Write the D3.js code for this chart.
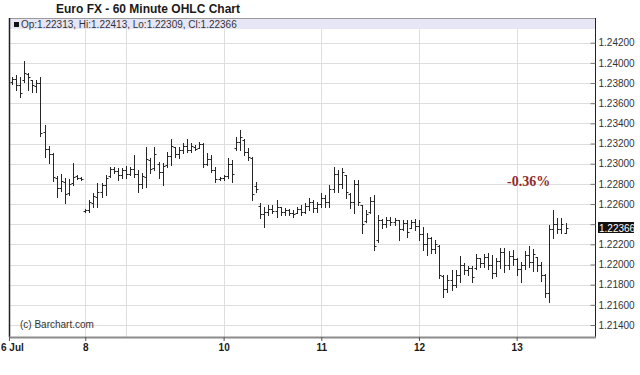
<!DOCTYPE html>
<html>
<head>
<meta charset="utf-8">
<script src="https://cdn.jsdelivr.net/npm/d3@7.9.0/dist/d3.min.js"></script>
<style>
  html, body { margin: 0; padding: 0; background: #fff; }
  svg { display: block; font-family: "Liberation Sans", Arial, sans-serif; }
</style>
</head>
<body>
<svg id="chart" width="640" height="375"></svg>
<script>
// hourly bars, Jul 6 - Jul 13
const opens = [
  1.2381, 1.2384, 1.2378, 1.2383, 1.2389, 1.2383, 1.2377, 1.2380, 1.2331, 1.2315,
  1.2310, 1.2286, 1.2276, 1.2282, 1.2271, 1.2281, 1.2288, 1.2286,
  1.2253, 1.2254, 1.2261, 1.2267, 1.2272, 1.2279, 1.2288, 1.2295, 1.2293, 1.2289,
  1.2294, 1.2290, 1.2295, 1.2290, 1.2280, 1.2287, 1.2304, 1.2296, 1.2300, 1.2292,
  1.2299, 1.2308, 1.2317, 1.2310, 1.2314, 1.2318, 1.2314, 1.2317, 1.2316, 1.2320,
  1.2300, 1.2305, 1.2294, 1.2285, 1.2286, 1.2288, 1.2300, 1.2316, 1.2322, 1.2323,
  1.2312, 1.2306, 1.2278, 1.2258, 1.2250, 1.2252, 1.2255, 1.2253, 1.2257, 1.2252,
  1.2254, 1.2251, 1.2251, 1.2255, 1.2252, 1.2258, 1.2262, 1.2256, 1.2260, 1.2266,
  1.2262, 1.2275, 1.2290, 1.2280, 1.2289, 1.2270, 1.2262, 1.2280, 1.2259, 1.2243,
  1.2252, 1.2263, 1.2224, 1.2244, 1.2240, 1.2244, 1.2242, 1.2244, 1.2235, 1.2241,
  1.2236, 1.2242, 1.2238, 1.2230, 1.2220, 1.2226, 1.2215, 1.2218, 1.2189, 1.2176,
  1.2185, 1.2180, 1.2190, 1.2200, 1.2195, 1.2197, 1.2197, 1.2206, 1.2201, 1.2207,
  1.2200, 1.2192, 1.2203, 1.2212, 1.2200, 1.2208, 1.2205, 1.2196, 1.2200, 1.2209,
  1.2202, 1.2207, 1.2200, 1.2190, 1.2172, 1.2235, 1.2240, 1.2235, 1.22313
];
const highs = [
  1.2386, 1.2388, 1.2386, 1.2402, 1.2390, 1.2383, 1.2383, 1.2386, 1.2338, 1.2318,
  1.2311, 1.2288, 1.2290, 1.2286, 1.2285, 1.2301, 1.2289, 1.2287,
  1.2255, 1.2264, 1.2271, 1.2281, 1.2281, 1.2289, 1.2297, 1.2297, 1.2296, 1.2296,
  1.2298, 1.2297, 1.2309, 1.2294, 1.2291, 1.2317, 1.2306, 1.2317, 1.2302, 1.2301,
  1.2312, 1.2324, 1.2317, 1.2317, 1.2321, 1.2324, 1.2321, 1.2319, 1.2322, 1.2321,
  1.2311, 1.2309, 1.2297, 1.2287, 1.2289, 1.2306, 1.2304, 1.2326, 1.2333, 1.2324,
  1.2316, 1.2307, 1.2282, 1.2261, 1.2257, 1.2259, 1.2259, 1.2264, 1.2257, 1.2256,
  1.2255, 1.2254, 1.2257, 1.2259, 1.2261, 1.2266, 1.2264, 1.2262, 1.2271, 1.2269,
  1.2279, 1.2297, 1.2294, 1.2296, 1.2289, 1.2271, 1.2284, 1.2284, 1.2259, 1.2254,
  1.2267, 1.2269, 1.2249, 1.2245, 1.2247, 1.2247, 1.2246, 1.2244, 1.2244, 1.2244,
  1.2244, 1.2245, 1.2244, 1.2237, 1.2231, 1.2227, 1.2224, 1.2219, 1.2190, 1.2190,
  1.2195, 1.2195, 1.2208, 1.2201, 1.2199, 1.2199, 1.2210, 1.2206, 1.2210, 1.2211,
  1.2209, 1.2206, 1.2216, 1.2216, 1.2213, 1.2214, 1.2206, 1.2202, 1.2213, 1.2218,
  1.2215, 1.2207, 1.2202, 1.2191, 1.2239, 1.2254, 1.2246, 1.2246, 1.22413
];
const lows = [
  1.2379, 1.2373, 1.2366, 1.2381, 1.2373, 1.2371, 1.2371, 1.2327, 1.2307, 1.2301,
  1.2283, 1.2267, 1.2273, 1.2261, 1.2269, 1.2279, 1.2285, 1.2284,
  1.2252, 1.2252, 1.2257, 1.2257, 1.2267, 1.2269, 1.2287, 1.2291, 1.2284, 1.2286,
  1.2286, 1.2289, 1.2287, 1.2272, 1.2276, 1.2277, 1.2291, 1.2294, 1.2286, 1.2279,
  1.2297, 1.2299, 1.2307, 1.2306, 1.2311, 1.2312, 1.2312, 1.2314, 1.2316, 1.2297,
  1.2299, 1.2292, 1.2282, 1.2284, 1.2284, 1.2286, 1.2282, 1.2314, 1.2314, 1.2309,
  1.2304, 1.2264, 1.2272, 1.2246, 1.2237, 1.2249, 1.2251, 1.2247, 1.2249, 1.2249,
  1.2249, 1.2247, 1.2251, 1.2249, 1.2251, 1.2254, 1.2252, 1.2252, 1.2257, 1.2257,
  1.2257, 1.2272, 1.2272, 1.2276, 1.2266, 1.2256, 1.2251, 1.2259, 1.2231, 1.2242,
  1.2251, 1.2214, 1.2222, 1.2236, 1.2237, 1.2239, 1.2239, 1.2224, 1.2234, 1.2227,
  1.2236, 1.2234, 1.2224, 1.2214, 1.2209, 1.2211, 1.2211, 1.2187, 1.2168, 1.2173,
  1.2175, 1.2178, 1.2183, 1.2191, 1.2190, 1.2183, 1.2196, 1.2198, 1.2198, 1.2196,
  1.2187, 1.2189, 1.2197, 1.2193, 1.2196, 1.2200, 1.2190, 1.2183, 1.2196, 1.2198,
  1.2194, 1.2194, 1.2184, 1.2168, 1.2163, 1.2226, 1.2231, 1.2231, 1.22309
];
const closes = [
  1.2384, 1.2378, 1.2370, 1.2390, 1.2386, 1.2378, 1.2380, 1.2330, 1.2315, 1.2310,
  1.2287, 1.2276, 1.2283, 1.2270, 1.2280, 1.2287, 1.2286, 1.2285,
  1.2254, 1.2262, 1.2268, 1.2272, 1.2279, 1.2286, 1.2295, 1.2293, 1.2289, 1.2294,
  1.2290, 1.2295, 1.2290, 1.2280, 1.2288, 1.2305, 1.2295, 1.2310, 1.2292, 1.2298,
  1.2308, 1.2318, 1.2310, 1.2314, 1.2318, 1.2314, 1.2318, 1.2315, 1.2320, 1.2300,
  1.2305, 1.2294, 1.2285, 1.2286, 1.2288, 1.2300, 1.2290, 1.2322, 1.2326, 1.2312,
  1.2307, 1.2270, 1.2275, 1.2250, 1.2252, 1.2255, 1.2253, 1.2257, 1.2252, 1.2254,
  1.2251, 1.2250, 1.2255, 1.2252, 1.2258, 1.2262, 1.2256, 1.2260, 1.2266, 1.2262,
  1.2275, 1.2290, 1.2280, 1.2292, 1.2272, 1.2262, 1.2280, 1.2262, 1.2240, 1.2250,
  1.2263, 1.2218, 1.2244, 1.2240, 1.2244, 1.2242, 1.2244, 1.2235, 1.2241, 1.2232,
  1.2242, 1.2238, 1.2230, 1.2220, 1.2226, 1.2215, 1.2220, 1.2190, 1.2176, 1.2185,
  1.2180, 1.2190, 1.2200, 1.2195, 1.2197, 1.2188, 1.2206, 1.2201, 1.2207, 1.2200,
  1.2192, 1.2203, 1.2212, 1.2200, 1.2208, 1.2205, 1.2196, 1.2200, 1.2209, 1.2202,
  1.2210, 1.2200, 1.2190, 1.2172, 1.2235, 1.2240, 1.2235, 1.2240, 1.22366
];

// session starts (bar index) and their labels
const dayStarts = [-0.75, 18, 28, 52, 76, 100, 124];
const dayLabels = ['6 Jul', '8', '9', '10', '11', '12', '13'];
const priceTicks = [1.214, 1.216, 1.218, 1.220, 1.222, 1.224, 1.226, 1.228,
                    1.230, 1.232, 1.234, 1.236, 1.238, 1.240, 1.242];
const changeText = '-0.36%';

const bars = opens.map((o, i) => ({ i, o, h: highs[i], l: lows[i], c: closes[i] }));
const last = bars[bars.length - 1];

const svg = d3.select('#chart');
const plotL = 9, plotR = 595, plotT = 18, plotB = 337, bandH = 11;

const x = d3.scaleLinear().domain([0, bars.length - 1]).range([12, 565.5]);
const y = d3.scaleLinear().domain([1.214, 1.242]).range([325, 42.7]);
const fmt = d3.format('.5f');
const px = v => Math.round(v) + 0.5;

// title
svg.append('text')
  .attr('x', 56).attr('y', 12.5)
  .attr('font-size', 12).attr('font-weight', 'bold').attr('fill', '#1a1a1a')
  .text('Euro FX - 60 Minute OHLC Chart');

// grid
const grid = svg.append('g').attr('stroke', '#dedede').attr('stroke-width', 1);
grid.selectAll('.h').data(priceTicks).join('line').attr('class', 'h')
  .attr('x1', plotL).attr('x2', plotR)
  .attr('y1', d => px(y(d))).attr('y2', d => px(y(d)));
grid.selectAll('.v').data(dayStarts.slice(1)).join('line').attr('class', 'v')
  .attr('x1', d => px(x(d))).attr('x2', d => px(x(d)))
  .attr('y1', plotT + bandH).attr('y2', plotB);

// legend band
svg.append('rect').attr('x', plotL + 1).attr('y', plotT + 0.5)
  .attr('width', plotR - plotL - 1).attr('height', bandH - 0.5).attr('fill', '#e6e6f7');
svg.append('rect').attr('x', 14).attr('y', 22).attr('width', 5).attr('height', 5).attr('fill', '#111');
svg.append('text').attr('x', 21).attr('y', 27.5)
  .attr('font-size', 10).attr('fill', '#333')
  .text(`Op:${fmt(last.o)}, Hi:${fmt(last.h)}, Lo:${fmt(last.l)}, Cl:${fmt(last.c)}`);

// frame
svg.append('line').attr('x1', plotL).attr('x2', plotR).attr('y1', plotT + 0.5).attr('y2', plotT + 0.5)
  .attr('stroke', '#9a9a9a');
svg.append('line').attr('x1', plotL + 0.5).attr('x2', plotL + 0.5).attr('y1', plotT).attr('y2', plotB)
  .attr('stroke', '#222').attr('stroke-width', 1.5);

// OHLC bars
svg.append('g').attr('fill', 'none').attr('stroke', '#262626').attr('stroke-width', 1)
  .selectAll('path').data(bars).join('path')
  .attr('d', d => {
    const cx = px(x(d.i));
    return `M${cx},${Math.round(y(d.h))}V${Math.round(y(d.l)) + 1}` +
      `M${cx - 2},${px(y(d.o))}H${cx}` +
      `M${cx},${px(y(d.c))}H${cx + 2}`;
  });

// right price axis
const nearLast = d => Math.abs(y(d) - y(last.c)) < 9;
const yAxis = svg.append('g').attr('transform', `translate(${plotR + 0.5},0)`)
  .call(d3.axisRight(y).tickValues(priceTicks).tickFormat(d => nearLast(d) ? '' : fmt(d)).tickSize(0));
yAxis.select('.domain').attr('d', `M0,${plotT}V${plotB + 1}`).attr('stroke', '#222');
yAxis.selectAll('.tick text').attr('x', 3).attr('font-size', 10)
  .attr('font-family', '"Liberation Sans", Arial, sans-serif').attr('fill', '#333');
yAxis.selectAll('.tick').append('line').attr('x1', -5).attr('x2', 0).attr('stroke', '#777');

// last price marker
const lastY = y(last.c);
svg.append('rect').attr('x', plotR + 3).attr('y', Math.round(lastY) - 6)
  .attr('width', 36).attr('height', 11).attr('fill', '#111');
svg.append('text').attr('x', plotR + 4).attr('y', Math.round(lastY) + 3.5)
  .attr('font-size', 10).attr('fill', '#fff').text(fmt(last.c));

// bottom date axis
let lastShown = -Infinity;
const shown = dayStarts.map(d => {
  const ok = x(d) - lastShown > 45;
  if (ok) lastShown = x(d);
  return ok;
});
const xAxis = svg.append('g').attr('transform', `translate(0,${plotB})`)
  .call(d3.axisBottom(x).tickValues(dayStarts)
    .tickFormat((d, i) => shown[i] ? dayLabels[i] : '').tickSize(4).tickPadding(3));
xAxis.select('.domain').attr('d', `M${plotL},0.5H${plotR + 1}`).attr('stroke', '#8c8c8c').attr('stroke-width', 2);
xAxis.selectAll('.tick line').attr('stroke', d => shown[dayStarts.indexOf(d)] ? '#555' : 'none');
xAxis.selectAll('.tick text').attr('font-size', 10).attr('font-weight', 'bold')
  .attr('font-family', '"Liberation Sans", Arial, sans-serif').attr('fill', '#1a1a1a');
// first label sits against the left edge, as in the original
xAxis.selectAll('.tick text').filter((d, i) => i === 0)
  .attr('text-anchor', 'start').attr('x', -x(dayStarts[0]) + 0.5);

// change annotation
svg.append('text').attr('x', 507).attr('y', 186)
  .attr('font-family', '"Liberation Serif", "Times New Roman", serif')
  .attr('font-size', 14).attr('font-weight', 'bold').attr('fill', '#922b2b')
  .text(changeText);

// credit
svg.append('text').attr('x', 20).attr('y', 328)
  .attr('font-size', 10).attr('fill', '#333').text('(c) Barchart.com');
</script>
</body>
</html>
